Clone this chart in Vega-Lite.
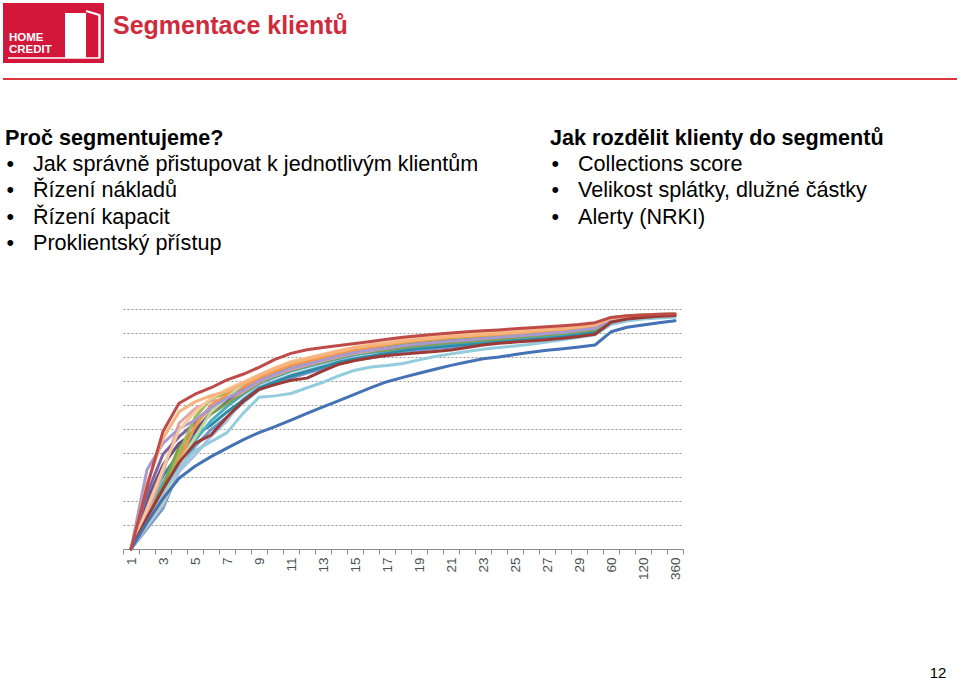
{
"$schema":"https://vega.github.io/schema/vega-lite/v6.json",
"width":960,"height":680,"autosize":{"type":"none"},"padding":0,"background":"#ffffff",
"config":{"view":{"stroke":null},"font":"Liberation Sans"},
"datasets":{
"slide":[{"title":"Segmentace klientů","brand":"HOME CREDIT","page":"12"}],
"outline":[
{"col":"left","line":0,"kind":"heading","text":"Proč segmentujeme?"},
{"col":"left","line":1,"kind":"bullet","text":"Jak správně přistupovat k jednotlivým klientům"},
{"col":"left","line":2,"kind":"bullet","text":"Řízení nákladů"},
{"col":"left","line":3,"kind":"bullet","text":"Řízení kapacit"},
{"col":"left","line":4,"kind":"bullet","text":"Proklientský přístup"},
{"col":"right","line":0,"kind":"heading","text":"Jak rozdělit klienty do segmentů"},
{"col":"right","line":1,"kind":"bullet","text":"Collections score"},
{"col":"right","line":2,"kind":"bullet","text":"Velikost splátky, dlužné částky"},
{"col":"right","line":3,"kind":"bullet","text":"Alerty (NRKI)"}
],
"curves":[
{"m":"1","s01":0,"s02":0,"s03":0,"s04":0,"s05":0,"s06":0,"s07":0,"s08":0,"s09":0,"s10":0,"s11":0,"s12":0,"s13":0,"s14":0,"s15":0,"s16":0,"s17":0,"s18":0},
{"m":"2","s01":0.11,"s02":0.26,"s03":0.118,"s04":0.23,"s05":0.155,"s06":0.105,"s07":0.18,"s08":0.093,"s09":0.13,"s10":0.143,"s11":0.205,"s12":0.105,"s13":0.33,"s14":0.27,"s15":0.168,"s16":0.085,"s17":0.12,"s18":0.13},
{"m":"3","s01":0.21,"s02":0.49,"s03":0.23,"s04":0.395,"s05":0.275,"s06":0.215,"s07":0.305,"s08":0.185,"s09":0.26,"s10":0.32,"s11":0.35,"s12":0.2,"s13":0.44,"s14":0.461,"s15":0.335,"s16":0.17,"s17":0.235,"s18":0.25},
{"m":"4","s01":0.295,"s02":0.607,"s03":0.398,"s04":0.468,"s05":0.384,"s06":0.37,"s07":0.398,"s08":0.322,"s09":0.426,"s10":0.524,"s11":0.44,"s12":0.356,"s13":0.502,"s14":0.572,"s15":0.496,"s16":0.328,"s17":0.34,"s18":0.36},
{"m":"5","s01":0.345,"s02":0.645,"s03":0.548,"s04":0.524,"s05":0.452,"s06":0.512,"s07":0.476,"s08":0.392,"s09":0.5,"s10":0.584,"s11":0.488,"s12":0.464,"s13":0.536,"s14":0.613,"s15":0.572,"s16":0.428,"s17":0.41,"s18":0.44},
{"m":"6","s01":0.385,"s02":0.672,"s03":0.627,"s04":0.59,"s05":0.534,"s06":0.599,"s07":0.516,"s08":0.469,"s09":0.562,"s10":0.617,"s11":0.571,"s12":0.571,"s13":0.59,"s14":0.639,"s15":0.627,"s16":0.497,"s17":0.447,"s18":0.475},
{"m":"7","s01":0.42,"s02":0.705,"s03":0.651,"s04":0.636,"s05":0.593,"s06":0.643,"s07":0.571,"s08":0.535,"s09":0.607,"s10":0.622,"s11":0.622,"s12":0.629,"s13":0.629,"s14":0.658,"s15":0.665,"s16":0.549,"s17":0.485,"s18":0.55},
{"m":"8","s01":0.455,"s02":0.728,"s03":0.68,"s04":0.67,"s05":0.645,"s06":0.675,"s07":0.62,"s08":0.625,"s09":0.65,"s10":0.655,"s11":0.665,"s12":0.69,"s13":0.66,"s14":0.69,"s15":0.695,"s16":0.61,"s17":0.565,"s18":0.615},
{"m":"9","s01":0.485,"s02":0.757,"s03":0.715,"s04":0.708,"s05":0.689,"s06":0.711,"s07":0.67,"s08":0.674,"s09":0.693,"s10":0.696,"s11":0.704,"s12":0.723,"s13":0.7,"s14":0.723,"s15":0.726,"s16":0.663,"s17":0.632,"s18":0.665},
{"m":"10","s01":0.51,"s02":0.79,"s03":0.744,"s04":0.736,"s05":0.716,"s06":0.74,"s07":0.696,"s08":0.7,"s09":0.72,"s10":0.724,"s11":0.732,"s12":0.752,"s13":0.728,"s14":0.752,"s15":0.756,"s16":0.688,"s17":0.638,"s18":0.685},
{"m":"11","s01":0.537,"s02":0.815,"s03":0.769,"s04":0.761,"s05":0.741,"s06":0.765,"s07":0.721,"s08":0.725,"s09":0.745,"s10":0.749,"s11":0.757,"s12":0.777,"s13":0.753,"s14":0.777,"s15":0.781,"s16":0.713,"s17":0.648,"s18":0.703},
{"m":"12","s01":0.565,"s02":0.83,"s03":0.785,"s04":0.778,"s05":0.759,"s06":0.781,"s07":0.74,"s08":0.744,"s09":0.763,"s10":0.766,"s11":0.774,"s12":0.793,"s13":0.77,"s14":0.793,"s15":0.796,"s16":0.733,"s17":0.672,"s18":0.712},
{"m":"13","s01":0.592,"s02":0.84,"s03":0.801,"s04":0.794,"s05":0.777,"s06":0.798,"s07":0.759,"s08":0.763,"s09":0.78,"s10":0.784,"s11":0.791,"s12":0.808,"s13":0.787,"s14":0.808,"s15":0.812,"s16":0.752,"s17":0.694,"s18":0.742},
{"m":"14","s01":0.618,"s02":0.848,"s03":0.817,"s04":0.811,"s05":0.794,"s06":0.814,"s07":0.778,"s08":0.781,"s09":0.798,"s10":0.801,"s11":0.807,"s12":0.824,"s13":0.804,"s14":0.824,"s15":0.827,"s16":0.772,"s17":0.722,"s18":0.77},
{"m":"15","s01":0.645,"s02":0.856,"s03":0.832,"s04":0.826,"s05":0.809,"s06":0.829,"s07":0.793,"s08":0.796,"s09":0.813,"s10":0.816,"s11":0.822,"s12":0.839,"s13":0.819,"s14":0.839,"s15":0.842,"s16":0.787,"s17":0.745,"s18":0.785},
{"m":"16","s01":0.672,"s02":0.865,"s03":0.842,"s04":0.836,"s05":0.819,"s06":0.839,"s07":0.803,"s08":0.806,"s09":0.823,"s10":0.826,"s11":0.832,"s12":0.849,"s13":0.829,"s14":0.849,"s15":0.852,"s16":0.797,"s17":0.758,"s18":0.797},
{"m":"17","s01":0.697,"s02":0.874,"s03":0.849,"s04":0.846,"s05":0.826,"s06":0.852,"s07":0.816,"s08":0.82,"s09":0.829,"s10":0.839,"s11":0.842,"s12":0.859,"s13":0.836,"s14":0.855,"s15":0.862,"s16":0.81,"s17":0.765,"s18":0.806},
{"m":"18","s01":0.715,"s02":0.882,"s03":0.859,"s04":0.856,"s05":0.837,"s06":0.862,"s07":0.828,"s08":0.831,"s09":0.84,"s10":0.85,"s11":0.853,"s12":0.869,"s13":0.847,"s14":0.866,"s15":0.872,"s16":0.822,"s17":0.773,"s18":0.812},
{"m":"19","s01":0.732,"s02":0.889,"s03":0.867,"s04":0.863,"s05":0.845,"s06":0.87,"s07":0.836,"s08":0.839,"s09":0.848,"s10":0.857,"s11":0.86,"s12":0.876,"s13":0.854,"s14":0.873,"s15":0.879,"s16":0.829,"s17":0.788,"s18":0.818},
{"m":"20","s01":0.749,"s02":0.895,"s03":0.873,"s04":0.869,"s05":0.851,"s06":0.876,"s07":0.842,"s08":0.845,"s09":0.854,"s10":0.863,"s11":0.866,"s12":0.882,"s13":0.86,"s14":0.879,"s15":0.885,"s16":0.835,"s17":0.802,"s18":0.823},
{"m":"21","s01":0.765,"s02":0.9,"s03":0.879,"s04":0.875,"s05":0.857,"s06":0.882,"s07":0.848,"s08":0.851,"s09":0.86,"s10":0.869,"s11":0.872,"s12":0.888,"s13":0.866,"s14":0.885,"s15":0.891,"s16":0.841,"s17":0.813,"s18":0.829},
{"m":"22","s01":0.779,"s02":0.905,"s03":0.883,"s04":0.88,"s05":0.862,"s06":0.886,"s07":0.853,"s08":0.856,"s09":0.865,"s10":0.874,"s11":0.877,"s12":0.892,"s13":0.871,"s14":0.889,"s15":0.895,"s16":0.847,"s17":0.823,"s18":0.84},
{"m":"23","s01":0.793,"s02":0.909,"s03":0.888,"s04":0.885,"s05":0.868,"s06":0.891,"s07":0.859,"s08":0.862,"s09":0.871,"s10":0.879,"s11":0.882,"s12":0.896,"s13":0.876,"s14":0.894,"s15":0.899,"s16":0.854,"s17":0.832,"s18":0.85},
{"m":"24","s01":0.8,"s02":0.913,"s03":0.893,"s04":0.89,"s05":0.874,"s06":0.895,"s07":0.866,"s08":0.868,"s09":0.876,"s10":0.884,"s11":0.887,"s12":0.901,"s13":0.882,"s14":0.898,"s15":0.903,"s16":0.86,"s17":0.84,"s18":0.857},
{"m":"25","s01":0.81,"s02":0.918,"s03":0.897,"s04":0.894,"s05":0.879,"s06":0.9,"s07":0.871,"s08":0.874,"s09":0.881,"s10":0.889,"s11":0.892,"s12":0.905,"s13":0.887,"s14":0.902,"s15":0.907,"s16":0.866,"s17":0.846,"s18":0.862},
{"m":"26","s01":0.82,"s02":0.922,"s03":0.902,"s04":0.9,"s05":0.884,"s06":0.905,"s07":0.877,"s08":0.879,"s09":0.887,"s10":0.895,"s11":0.897,"s12":0.91,"s13":0.892,"s14":0.907,"s15":0.913,"s16":0.872,"s17":0.853,"s18":0.867},
{"m":"27","s01":0.828,"s02":0.926,"s03":0.908,"s04":0.905,"s05":0.89,"s06":0.91,"s07":0.883,"s08":0.885,"s09":0.893,"s10":0.9,"s11":0.903,"s12":0.915,"s13":0.898,"s14":0.913,"s15":0.918,"s16":0.878,"s17":0.862,"s18":0.872},
{"m":"28","s01":0.834,"s02":0.93,"s03":0.913,"s04":0.911,"s05":0.896,"s06":0.915,"s07":0.889,"s08":0.891,"s09":0.899,"s10":0.906,"s11":0.908,"s12":0.92,"s13":0.903,"s14":0.918,"s15":0.923,"s16":0.884,"s17":0.872,"s18":0.878},
{"m":"29","s01":0.842,"s02":0.935,"s03":0.92,"s04":0.918,"s05":0.904,"s06":0.923,"s07":0.897,"s08":0.899,"s09":0.906,"s10":0.913,"s11":0.916,"s12":0.927,"s13":0.911,"s14":0.925,"s15":0.93,"s16":0.892,"s17":0.882,"s18":0.885},
{"m":"30","s01":0.85,"s02":0.943,"s03":0.929,"s04":0.927,"s05":0.913,"s06":0.931,"s07":0.906,"s08":0.909,"s09":0.915,"s10":0.922,"s11":0.924,"s12":0.936,"s13":0.92,"s14":0.933,"s15":0.938,"s16":0.902,"s17":0.893,"s18":0.895},
{"m":"60","s01":0.905,"s02":0.965,"s03":0.964,"s04":0.963,"s05":0.953,"s06":0.958,"s07":0.948,"s08":0.95,"s09":0.954,"s10":0.958,"s11":0.96,"s12":0.965,"s13":0.955,"s14":0.961,"s15":0.961,"s16":0.945,"s17":0.935,"s18":0.945},
{"m":"90","s01":0.924,"s02":0.972,"s03":0.971,"s04":0.97,"s05":0.962,"s06":0.966,"s07":0.958,"s08":0.96,"s09":0.963,"s10":0.966,"s11":0.968,"s12":0.972,"s13":0.964,"s14":0.969,"s15":0.969,"s16":0.956,"s17":0.95,"s18":0.958},
{"m":"120","s01":0.933,"s02":0.975,"s03":0.975,"s04":0.974,"s05":0.967,"s06":0.971,"s07":0.963,"s08":0.965,"s09":0.968,"s10":0.971,"s11":0.972,"s12":0.976,"s13":0.969,"s14":0.973,"s15":0.973,"s16":0.962,"s17":0.958,"s18":0.965},
{"m":"180","s01":0.943,"s02":0.978,"s03":0.977,"s04":0.977,"s05":0.971,"s06":0.974,"s07":0.968,"s08":0.969,"s09":0.971,"s10":0.974,"s11":0.975,"s12":0.978,"s13":0.972,"s14":0.976,"s15":0.976,"s16":0.966,"s17":0.962,"s18":0.97},
{"m":"360","s01":0.951,"s02":0.979,"s03":0.979,"s04":0.979,"s05":0.974,"s06":0.976,"s07":0.972,"s08":0.973,"s09":0.975,"s10":0.976,"s11":0.978,"s12":0.98,"s13":0.975,"s14":0.978,"s15":0.978,"s16":0.97,"s17":0.966,"s18":0.973}
]
},
"layer":[
{"data":{"name":"slide"},
 "layer":[
  {"mark":{"type":"rect","fill":"#D3173A"},
   "encoding":{"x":{"datum":3,"type":"quantitative","scale":{"domain":[0,960],"range":[0,960],"nice":false,"zero":false},"axis":null},"x2":{"datum":104},
               "y":{"datum":3,"type":"quantitative","scale":{"domain":[0,680],"range":[0,680],"nice":false,"zero":false},"axis":null},"y2":{"datum":63}}},
  {"mark":{"type":"rect","fill":"#ffffff"},
   "encoding":{"x":{"datum":65,"type":"quantitative"},"x2":{"datum":86},"y":{"datum":13,"type":"quantitative"},"y2":{"datum":58}}},
  {"mark":{"type":"rule","stroke":"#ffffff","strokeWidth":2},
   "encoding":{"x":{"datum":86,"type":"quantitative"},"x2":{"datum":99.5},"y":{"datum":11,"type":"quantitative"},"y2":{"datum":15}}},
  {"mark":{"type":"rule","stroke":"#ffffff","strokeWidth":2.5},
   "encoding":{"x":{"datum":99.5,"type":"quantitative"},"y":{"datum":14.5,"type":"quantitative"},"y2":{"datum":58}}},
  {"mark":{"type":"rule","stroke":"#ffffff","strokeWidth":1.5},
   "encoding":{"x":{"datum":8,"type":"quantitative"},"x2":{"datum":100},"y":{"datum":58,"type":"quantitative"}}},
  {"mark":{"type":"text","fill":"#ffffff","fontWeight":"bold","fontSize":11.5,"align":"left","baseline":"middle","lineBreak":" ","lineHeight":12},
   "encoding":{"x":{"datum":9,"type":"quantitative"},"y":{"datum":38,"type":"quantitative"},"text":{"field":"brand"}}},
  {"mark":{"type":"text","fill":"#D02B3C","fontWeight":"bold","fontSize":25,"align":"left","baseline":"middle"},
   "encoding":{"x":{"datum":113,"type":"quantitative"},"y":{"datum":25.5,"type":"quantitative"},"text":{"field":"title"}}},
  {"mark":{"type":"rule","stroke":"#D9363E","strokeWidth":2},
   "encoding":{"x":{"datum":3,"type":"quantitative"},"x2":{"datum":957},"y":{"datum":79,"type":"quantitative"}}},
  {"mark":{"type":"text","fill":"#000000","fontSize":15,"align":"center","baseline":"middle"},
   "encoding":{"x":{"datum":938,"type":"quantitative"},"y":{"datum":673,"type":"quantitative"},"text":{"field":"page"}}}
 ]
},
{"data":{"name":"outline"},
 "encoding":{
  "x":{"field":"col","type":"nominal","scale":{"type":"point","domain":["left","right"],"range":[5,550],"padding":0},"axis":null},
  "y":{"field":"line","type":"quantitative","scale":{"domain":[0,4],"range":[138.5,244],"nice":false,"zero":false},"axis":null},
  "yOffset":{"field":"col","type":"nominal","scale":{"type":"point","domain":["left","right"],"range":[0,3],"padding":0}}
 },
 "layer":[
  {"transform":[{"filter":"datum.kind === 'heading'"}],
   "mark":{"type":"text","align":"left","baseline":"middle","fontSize":21.6,"fontWeight":"bold","fill":"#000000"},
   "encoding":{"text":{"field":"text"}}},
  {"transform":[{"filter":"datum.kind === 'bullet'"}],
   "mark":{"type":"text","text":"•","align":"left","baseline":"middle","fontSize":21.6,"dx":1.5,"fill":"#000000"}},
  {"transform":[{"filter":"datum.kind === 'bullet'"}],
   "mark":{"type":"text","align":"left","baseline":"middle","fontSize":21.6,"dx":28,"fill":"#000000"},
   "encoding":{"text":{"field":"text"}}}
 ]
},
{"data":{"name":"curves"},
 "transform":[{"fold":["s16","s08","s07","s05","s09","s10","s11","s04","s03","s06","s12","s13","s15","s14","s17","s18","s01","s02"],"as":["series","share"]}],
 "mark":{"type":"line","strokeWidth":3,"strokeJoin":"round","strokeCap":"round"},
 "encoding":{
  "x":{"field":"m","type":"ordinal","bandPosition":0.5,
       "scale":{"type":"band","domain":["1","2","3","4","5","6","7","8","9","10","11","12","13","14","15","16","17","18","19","20","21","22","23","24","25","26","27","28","29","30","60","90","120","180","360"],"range":[123,683],"paddingInner":0,"paddingOuter":0},
       "axis":{"orient":"bottom","title":null,"offset":-131,"labelAngle":-90,"labelAlign":"right","labelBaseline":"middle","tickBand":"extent","labelOverlap":false,"labelFont":"Liberation Sans","labelFontSize":13.5,"labelColor":"#4d4d4d","labelPadding":3,"tickSize":5,"tickColor":"#8c8c8c","domainColor":"#8c8c8c","domainWidth":1,"grid":false,
               "labelExpr":"indexof(['1','3','5','7','9','11','13','15','17','19','21','23','25','27','29','60','120','360'], datum.label) >= 0 ? datum.label : ''"}},
  "y":{"field":"share","type":"quantitative","scale":{"domain":[0,1],"range":[549,309],"nice":false},
       "axis":{"orient":"left","offset":0,"title":null,"labels":false,"ticks":false,"domain":false,"grid":true,"gridColor":"#999999","gridDash":[2,2],"gridWidth":1,"values":[0.1,0.2,0.3,0.4,0.5,0.6,0.7,0.8,0.9,1]}},
  "color":{"field":"series","type":"nominal","legend":null,
       "scale":{"domain":["s16","s08","s07","s05","s09","s10","s11","s04","s03","s06","s12","s13","s15","s14","s17","s18","s01","s02"],
                "range":["#6E95CC","#A9C1E3","#2C8CA3","#4BACC6","#7FA04A","#E0A3A1","#6A5286","#8064A2","#9BBB59","#F79646","#C3D69B","#A899CF","#FAC898","#F7B27D","#93CDDD","#9B3A37","#4472B4","#BE4B48"]}},
  "order":{"value":null}
 }
}
],
"resolve":{"scale":{"x":"independent","y":"independent"},"axis":{"x":"independent","y":"independent"}}
}
